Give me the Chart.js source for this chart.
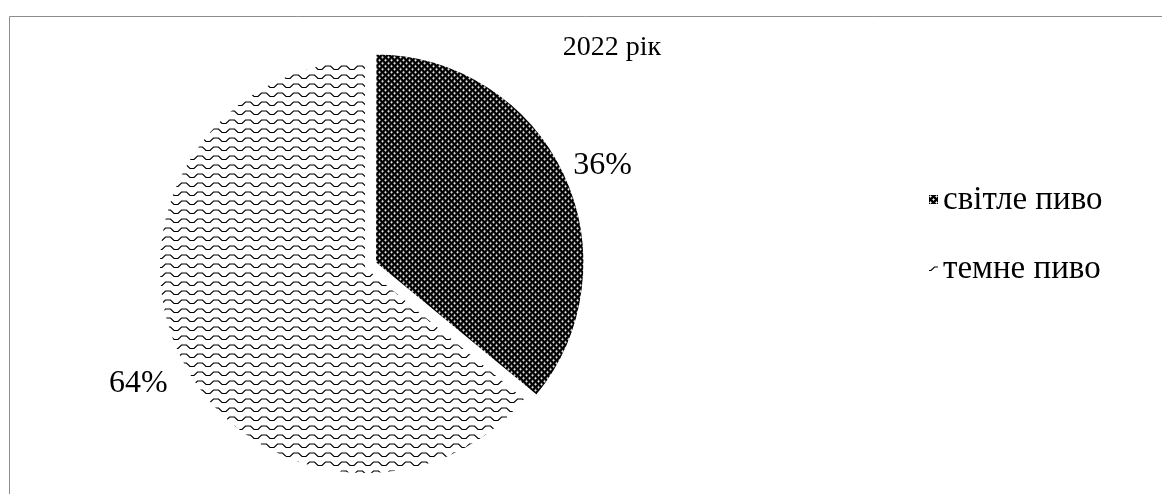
<!DOCTYPE html>
<html lang="uk">
<head>
<meta charset="utf-8">
<title>2022 рік</title>
<script src="https://cdn.jsdelivr.net/npm/chart.js@4/dist/chart.umd.min.js"></script>
<style>
  html, body { margin: 0; padding: 0; background: #fff; }
  #wrap { width: 1162px; height: 494px; }
</style>
</head>
<body>
<div id="wrap"><canvas id="beerChart" width="1162" height="494"></canvas></div>
<script>
const chartTitle = '2022 рік';
const categories = ['світле пиво', 'темне пиво'];
const shares = [36, 64];
const explode = [40, 0];

const FONT = '"Liberation Serif", "Times New Roman", serif';

// dark slice: black ground with small white crosses
function makeCheckPattern(ctx) {
  const t = document.createElement('canvas');
  t.width = 6; t.height = 6;
  const c = t.getContext('2d');
  c.fillStyle = '#000';
  c.fillRect(0, 0, 6, 6);
  [[1, 1], [4, 4]].forEach(([x, y]) => {
    c.fillStyle = '#a0a0a0';
    c.fillRect(x - 1, y, 3, 1);
    c.fillRect(x, y - 1, 1, 3);
    c.fillStyle = '#fff';
    c.fillRect(x, y, 1, 1);
  });
  return ctx.createPattern(t, 'repeat');
}

// light slice: thin black zigzag waves on white
function makeWavePattern(ctx) {
  const w = 16, h = 9;
  const t = document.createElement('canvas');
  t.width = w; t.height = h;
  const c = t.getContext('2d');
  c.fillStyle = '#fff';
  c.fillRect(0, 0, w, h);
  c.strokeStyle = '#000';
  c.lineWidth = 1.15;
  c.beginPath();
  c.moveTo(0, 6.5);
  c.lineTo(2, 6.5);
  c.lineTo(5.5, 3);
  c.lineTo(10.5, 3);
  c.lineTo(14, 6.5);
  c.lineTo(16, 6.5);
  c.stroke();
  return ctx.createPattern(t, 'repeat');
}

const canvas = document.getElementById('beerChart');
const ctx = canvas.getContext('2d');
const fills = [makeCheckPattern(ctx), makeWavePattern(ctx)];

// grey frame on the left and top edge
const framePlugin = {
  id: 'frame',
  beforeDraw(chart) {
    const c = chart.ctx;
    c.save();
    c.strokeStyle = '#8c8c8c';
    c.lineWidth = 1;
    c.beginPath();
    c.moveTo(9.5, 494);
    c.lineTo(9.5, 16.5);
    c.lineTo(1162, 16.5);
    c.stroke();
    c.restore();
  }
};

// title, percent labels and legend
const textPlugin = {
  id: 'texts',
  afterDraw(chart) {
    const c = chart.ctx;
    c.save();
    c.fillStyle = '#000';
    c.textBaseline = 'middle';

    c.font = '28px ' + FONT;
    c.textAlign = 'center';
    c.fillText(chartTitle, 612, 48);

    const meta = chart.getDatasetMeta(0);
    const total = shares.reduce((a, b) => a + b, 0);
    c.font = '32px ' + FONT;
    meta.data.forEach((arc, i) => {
      const p = arc.getProps(['x', 'y', 'startAngle', 'endAngle', 'outerRadius'], true);
      const mid = (p.startAngle + p.endAngle) / 2;
      const ux = Math.cos(mid), uy = Math.sin(mid);
      const shift = (arc.options.offset || 0) / 4;
      const txt = Math.round(shares[i] / total * 100) + '%';
      const hw = c.measureText(txt).width / 2, hh = 14;
      const d = p.outerRadius + shift + 12 + hw * Math.abs(ux) + hh * Math.abs(uy);
      c.fillText(txt, p.x + ux * d, p.y + uy * d + 10);
    });

    c.font = '33px ' + FONT;
    c.textAlign = 'left';
    categories.forEach((name, i) => {
      const y = 200 + i * 69;
      // marker: the pattern is anchored at the marker's corner
      c.save();
      c.translate(929, y - 5);
      c.fillStyle = fills[i];
      c.fillRect(0, 0, 9, 9);
      c.restore();
      c.fillStyle = '#000';
      c.fillText(name, 943, y);
    });
    c.restore();
  }
};

new Chart(ctx, {
  type: 'pie',
  data: {
    labels: categories,
    datasets: [{
      data: shares,
      backgroundColor: fills,
      borderColor: '#fff',
      borderWidth: 2,
      offset: explode,
      radius: 207,
      clip: false
    }]
  },
  options: {
    responsive: false,
    animation: false,
    devicePixelRatio: 1,
    layout: { padding: { left: 150, right: 580, top: 52, bottom: 12 } },
    plugins: {
      legend: { display: false },
      title: { display: false },
      tooltip: { enabled: false }
    }
  },
  plugins: [framePlugin, textPlugin]
});
</script>
</body>
</html>
